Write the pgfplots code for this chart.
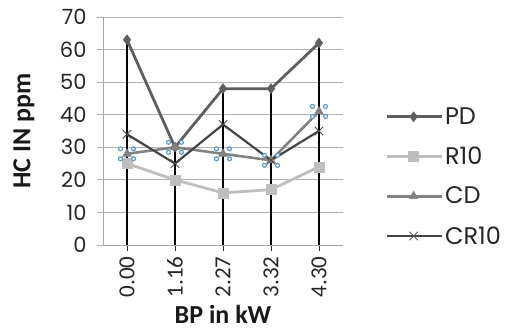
\documentclass[border=0pt]{standalone}
\usepackage{pgfplots}
\pgfplotsset{compat=1.18}
\usepackage{fontspec}
\setmainfont{Carlito}
\newfontfamily\geo{Poppins}
\definecolor{pdc}{HTML}{5E5E5E}
\definecolor{rc}{HTML}{BEBEBE}
\definecolor{cdc}{HTML}{828282}
\definecolor{crc}{HTML}{444444}
\definecolor{hb}{HTML}{5B9BD5}
\pgfdeclareplotmark{selh}{%
 \pgfpathcircle{\pgfpoint{6.5pt}{5pt}}{2pt}%
 \pgfpathcircle{\pgfpoint{-6.5pt}{5pt}}{2pt}%
 \pgfpathcircle{\pgfpoint{6.5pt}{-5pt}}{2pt}%
 \pgfpathcircle{\pgfpoint{-6.5pt}{-5pt}}{2pt}%
 \pgfusepathqfillstroke}
\begin{document}
\begin{tikzpicture}
\useasboundingbox (0pt,0pt) rectangle (508pt,333pt);
\begin{axis}[
  at={(103pt,88pt)}, anchor=south west,
  scale only axis, width=240pt, height=228pt,
  xmin=-0.5, xmax=4.5, ymin=0, ymax=70,
  xtick={0,1,2,3,4}, xticklabels={0.00,1.16,2.27,3.32,4.30},
  ytick={0,10,...,70},
  axis x line*=bottom, axis y line*=left,
  axis line style={gray!70, line width=0.8pt},
  ymajorgrids, grid style={gray!60, line width=0.8pt},
  tick align=outside,
  major tick length=6pt,
  xtick style={black!80, line width=0.8pt},
  ytick style={gray!60, line width=0.8pt},
  /pgf/number format/assume math mode=true,
  yticklabel style={font=\geo\fontsize{21}{21}\selectfont, text=black!85, xshift=-7pt},
  xticklabel style={font=\fontsize{23}{23}\selectfont, rotate=90, anchor=east, text=black!85, xshift=-2pt},
  xlabel={\bfseries BP in kW}, ylabel={\bfseries HC IN ppm},
  label style={font=\fontsize{26}{26}\selectfont, text=black!90},
  xlabel style={at={(rel axis cs:0.5,-0.305)}, anchor=center},
  ylabel style={at={(rel axis cs:-0.33,0.5)}, anchor=center},
  legend style={at={(rel axis cs:1.175,0.300)}, anchor=west, draw=none, fill=none,
    inner sep=0pt, row sep=17pt, font=\geo\fontsize{24}{24}\selectfont,
    nodes={text=black!85, inner sep=2pt}},
  legend cell align=left,
  legend image code/.code={\draw[mark repeat=2,mark phase=2] plot coordinates {(0pt,0pt) (27pt,0pt) (55pt,0pt)};},
  clip=false,
]
\addplot[black, line width=1.2pt, ycomb, no marks, forget plot] coordinates {(0,63) (1,31) (2,48) (3,48) (4,62)};
\addplot[pdc, line width=2.8pt, mark=diamond*, mark size=5pt, mark options={solid, line width=0.5pt}] coordinates {(0,63) (1,30) (2,48) (3,48) (4,62)};
\addlegendentry{PD}
\addplot[rc, line width=2.8pt, mark=square*, mark size=5pt, mark options={solid, line width=0.5pt}] coordinates {(0,25) (1,20) (2,16) (3,17) (4,24)};
\addlegendentry{R10}
\addplot[cdc, line width=2.6pt, mark=triangle*, mark size=5pt, mark options={solid, line width=0.5pt}] coordinates {(0,28) (1,30) (2,28) (3,26) (4,41)};
\addlegendentry{CD}
\addplot[crc, line width=2.2pt, mark=x, mark size=6pt, mark options={solid, line width=0.8pt}] coordinates {(0,34) (1,25) (2,37) (3,26) (4,35)};
\addlegendentry{CR10}
\addplot[only marks, mark=selh, mark options={draw=hb, fill=white, line width=1.2pt}, forget plot] coordinates {(0,28) (1,30) (2,28) (3,26) (4,41)};
\end{axis}
\end{tikzpicture}
\end{document}
